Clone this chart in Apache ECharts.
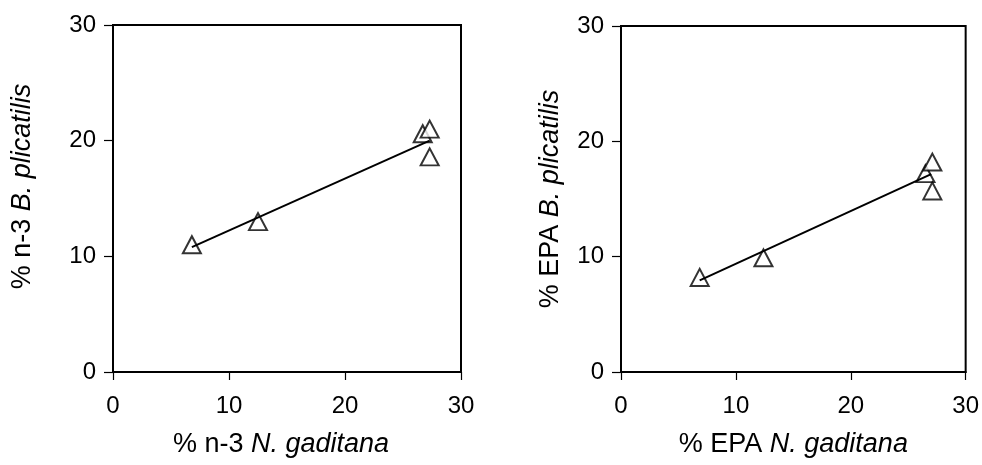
<!DOCTYPE html>
<html>
<head>
<meta charset="utf-8">
<script src="https://cdn.jsdelivr.net/npm/echarts@6/dist/echarts.min.js"></script>
<style>html,body{margin:0;padding:0;background:#fff}#c{width:982px;height:465px}</style>
</head>
<body>
<div id="c"></div>
<script>
// Left panel: n-3
const n3X = [6.8, 12.5, 26.7, 27.3, 27.3];
const n3Y = [11.0, 13.0, 20.6, 21.0, 18.6];
const n3FitX = [6.8, 27.3];
const n3FitY = [10.8, 20.0];
// Right panel: EPA
const epaX = [6.85, 12.4, 26.5, 27.1, 27.1];
const epaY = [8.2, 9.9, 17.2, 18.2, 15.7];
const epaFitX = [6.85, 27.0];
const epaFitY = [7.95, 17.15];
// Axis ticks
const axisTicks = [0, 10, 20, 30];

const zip = (a, b) => a.map((v, i) => [v, b[i]]);
const FONT = 'Liberation Sans, Arial, sans-serif';

function nameStyle(padding) {
  return { fontFamily: FONT, fontSize: 27, color: '#000', padding,
    rich: { i: { fontFamily: FONT, fontSize: 27, fontStyle: 'italic', color: '#000' } } };
}
function xAxisCfg(gridIndex, name, padding) {
  return {
    gridIndex, type: 'value', min: axisTicks[0], max: axisTicks[axisTicks.length - 1], interval: 10,
    name, nameLocation: 'middle', nameGap: 59,
    nameTextStyle: nameStyle(padding),
    axisLine: { show: true, onZero: false, lineStyle: { color: '#000', width: 2 } },
    axisTick: { show: true, inside: false, length: 8, lineStyle: { color: '#000', width: 1.2 } },
    axisLabel: { fontFamily: FONT, fontSize: 24, color: '#000', margin: 22 },
    splitLine: { show: false }
  };
}
function yAxisCfg(gridIndex, name, gap, padding) {
  return {
    gridIndex, type: 'value', min: axisTicks[0], max: axisTicks[axisTicks.length - 1], interval: 10,
    name, nameLocation: 'middle', nameGap: gap, nameRotate: 90,
    nameTextStyle: nameStyle(padding),
    axisLine: { show: true, onZero: false, lineStyle: { color: '#000', width: 2 } },
    axisTick: { show: true, inside: false, length: 9, lineStyle: { color: '#000', width: 1.2 } },
    axisLabel: { fontFamily: FONT, fontSize: 24, color: '#000', margin: 17 },
    splitLine: { show: false }
  };
}
function scatter(idx, data) {
  return {
    type: 'scatter', xAxisIndex: idx, yAxisIndex: idx, data, symbol: 'triangle', symbolSize: [18, 17],
    itemStyle: { color: '#fff', borderColor: '#000', borderWidth: 2 }, z: 2, silent: true
  };
}
function fit(idx, data) {
  return {
    type: 'line', xAxisIndex: idx, yAxisIndex: idx, data, showSymbol: false, symbol: 'none',
    lineStyle: { color: '#000', width: 2 }, z: 3, silent: true
  };
}

const chart = echarts.init(document.getElementById('c'), null, { renderer: 'canvas' });
chart.setOption({
  animation: false,
  backgroundColor: '#fff',
  grid: [
    { left: 113, top: 25, width: 348, height: 347, show: true, borderColor: '#000', borderWidth: 2, backgroundColor: 'transparent' },
    { left: 621, top: 26, width: 346, height: 346, show: true, borderColor: '#000', borderWidth: 2, backgroundColor: 'transparent' }
  ],
  xAxis: [
    xAxisCfg(0, '% n-3 {i|N. gaditana}', [0, 12, 0, 0]),
    xAxisCfg(1, '% EPA {i|N. gaditana}', [0, 0, 0, 0])
  ],
  yAxis: [
    yAxisCfg(0, '% n-3 {i|B. plicatilis}', 77, [0, 0, 0, 24]),
    yAxisCfg(1, '% EPA {i|B. plicatilis}', 57, [0, 0, 0, 0])
  ],
  series: [
    scatter(0, zip(n3X, n3Y)),
    fit(0, zip(n3FitX, n3FitY)),
    scatter(1, zip(epaX, epaY)),
    fit(1, zip(epaFitX, epaFitY))
  ]
});
</script>
</body>
</html>
